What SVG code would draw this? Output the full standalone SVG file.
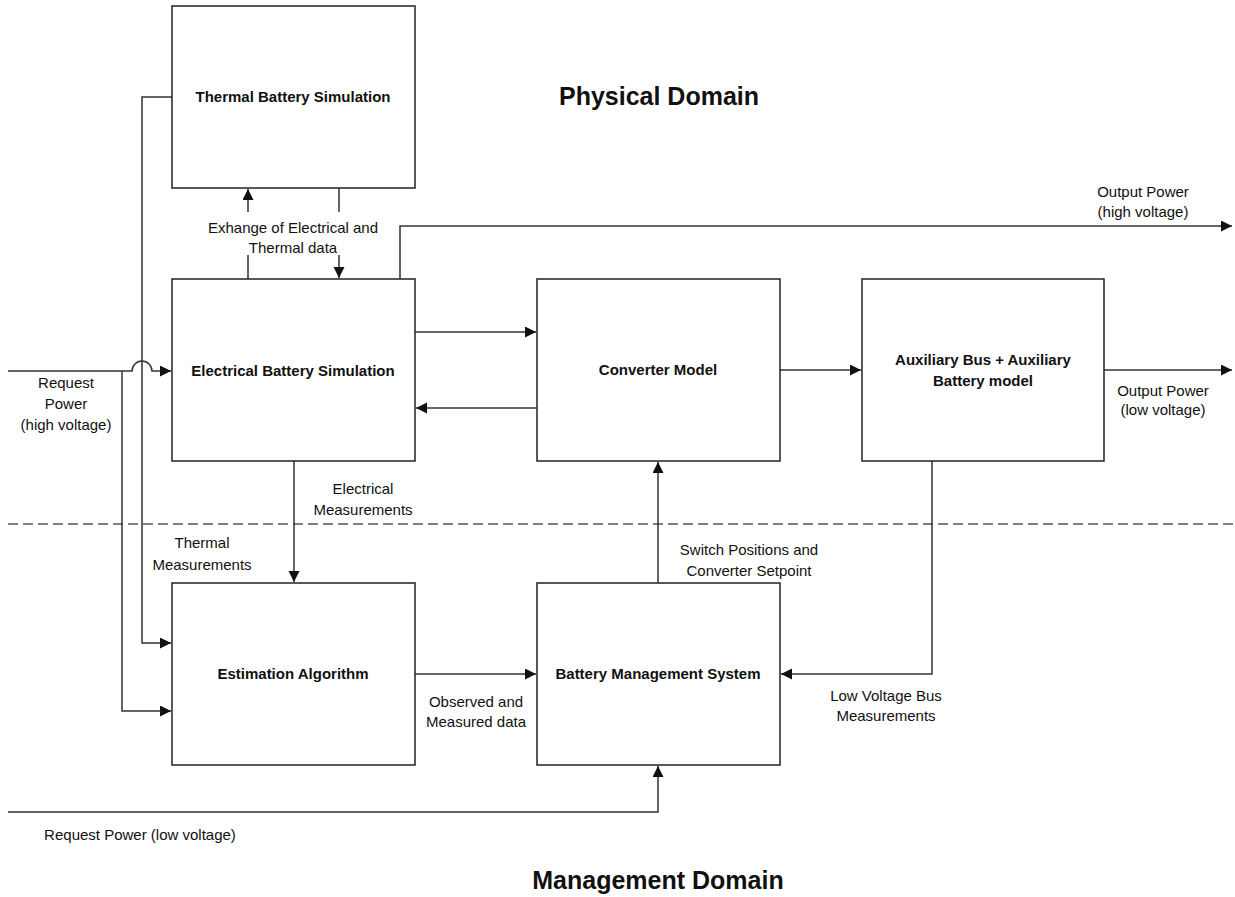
<svg xmlns="http://www.w3.org/2000/svg" width="1235" height="897" viewBox="0 0 1235 897">
<style>
.box{fill:#fff;stroke:#222;stroke-width:1.5}
.ln{fill:none;stroke:#333;stroke-width:1.5}
.dash{fill:none;stroke:#555;stroke-width:1.3;stroke-dasharray:10 5}
.t{font-family:"Liberation Sans",Arial,sans-serif;font-size:15px;fill:#111;text-anchor:middle}
.b{font-family:"Liberation Sans",Arial,sans-serif;font-size:15px;font-weight:bold;fill:#111;text-anchor:middle}
.h{font-family:"Liberation Sans",Arial,sans-serif;font-size:25px;font-weight:bold;fill:#111;text-anchor:middle}
</style>
<defs>
<marker id="arr" markerUnits="userSpaceOnUse" markerWidth="12" markerHeight="12" refX="11" refY="5.5" orient="auto">
<path d="M0,0 L11,5.5 L0,11 z" fill="#111"/>
</marker>
</defs>
<rect width="1235" height="897" fill="#fff"/>
<text class="h" x="659" y="105">Physical Domain</text>
<text class="h" x="658" y="889">Management Domain</text>
<line class="dash" x1="8" y1="524" x2="1235" y2="524"/>
<g id="connectors">
<path class="ln" d="M172,97 H142 V643 H171" marker-end="url(#arr)"/>
<path class="ln" d="M8,371 H132 A10,10 0 0 1 152,371 H171" marker-end="url(#arr)"/>
<path class="ln" d="M122,371 V711 H171" marker-end="url(#arr)"/>
<path class="ln" d="M248,279 V255"/>
<path class="ln" d="M248,212 V189" marker-end="url(#arr)"/>
<path class="ln" d="M339,188 V212"/>
<path class="ln" d="M339,255 V278" marker-end="url(#arr)"/>
<path class="ln" d="M400,279 V226 H1232" marker-end="url(#arr)"/>
<path class="ln" d="M415,332 H536" marker-end="url(#arr)"/>
<path class="ln" d="M537,408 H416" marker-end="url(#arr)"/>
<path class="ln" d="M780,370 H861" marker-end="url(#arr)"/>
<path class="ln" d="M1104,370 H1232" marker-end="url(#arr)"/>
<path class="ln" d="M294,461 V582" marker-end="url(#arr)"/>
<path class="ln" d="M415,674 H536" marker-end="url(#arr)"/>
<path class="ln" d="M8,812 H658 V766" marker-end="url(#arr)"/>
<path class="ln" d="M658,583 V462" marker-end="url(#arr)"/>
<path class="ln" d="M932,461 V674 H781" marker-end="url(#arr)"/>
</g>
<g id="labels">
<text class="t" x="293" y="233">Exhange of Electrical and</text>
<text class="t" x="293" y="253">Thermal data</text>
<text class="t" x="66" y="388">Request</text>
<text class="t" x="66" y="409">Power</text>
<text class="t" x="66" y="430">(high voltage)</text>
<text class="t" x="363" y="494">Electrical</text>
<text class="t" x="363" y="515">Measurements</text>
<text class="t" x="202" y="548">Thermal</text>
<text class="t" x="202" y="570">Measurements</text>
<text class="t" x="476" y="707">Observed and</text>
<text class="t" x="476" y="727">Measured data</text>
<text class="t" x="140" y="840">Request Power (low voltage)</text>
<text class="t" x="749" y="555">Switch Positions and</text>
<text class="t" x="749" y="576">Converter Setpoint</text>
<text class="t" x="886" y="701">Low Voltage Bus</text>
<text class="t" x="886" y="721">Measurements</text>
<text class="t" x="1143" y="197">Output Power</text>
<text class="t" x="1143" y="217">(high voltage)</text>
<text class="t" x="1163" y="396">Output Power</text>
<text class="t" x="1163" y="415">(low voltage)</text>
</g>
<g id="thermal">
<rect class="box" x="172" y="6" width="243" height="182"/>
<text class="b" x="293" y="102">Thermal Battery Simulation</text>
</g>
<g id="electrical">
<rect class="box" x="172" y="279" width="243" height="182"/>
<text class="b" x="293" y="376">Electrical Battery Simulation</text>
</g>
<g id="converter">
<rect class="box" x="537" y="279" width="243" height="182"/>
<text class="b" x="658" y="375">Converter Model</text>
</g>
<g id="auxiliary">
<rect class="box" x="862" y="279" width="242" height="182"/>
<text class="b" x="983" y="365">Auxiliary Bus + Auxiliary</text>
<text class="b" x="983" y="386">Battery model</text>
</g>
<g id="estimation">
<rect class="box" x="172" y="583" width="243" height="182"/>
<text class="b" x="293" y="679">Estimation Algorithm</text>
</g>
<g id="bms">
<rect class="box" x="537" y="583" width="243" height="182"/>
<text class="b" x="658" y="679">Battery Management System</text>
</g>
</svg>
